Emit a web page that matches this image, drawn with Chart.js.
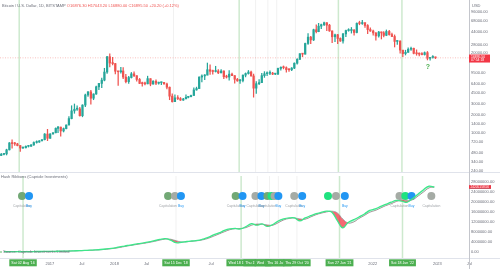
<!DOCTYPE html>
<html>
<head>
<meta charset="utf-8">
<script src="https://cdn.jsdelivr.net/npm/chart.js@4.4.0/dist/chart.umd.min.js"></script>
<style>
  html, body { margin: 0; padding: 0; background: #fff; }
  #wrap { position: relative; width: 500px; height: 269px; overflow: hidden; }
  canvas { position: absolute; left: 0; }
  #price { top: 0; }
  #hash { top: 172px; }
</style>
</head>
<body>
<div id="wrap">
  <canvas id="price" width="500" height="172"></canvas>
  <canvas id="hash" width="500" height="97"></canvas>
</div>
<script>
// ---- Data ----

// half-monthly BTC candles, Apr 2016 - Dec 2022 (open = previous close)
const firstOpen = 430;
const candleClose = [
  448,457,531,690,673,665,624,568,573,607,608,640,700,712,745,778,963,
  820,965,1010,1190,1250,1080,1180,1350,1720,2300,2450,2480,1920,2860,4180,4700,3700,4340,5680,6450,7300,9900,17600,13900,
  13600,10200,10000,10300,8200,6900,8050,9250,8650,7500,6450,6400,6350,7730,6300,7000,6500,6630,6700,6330,5600,4000,3250,3750,
  3650,3450,3600,3830,3900,4100,5050,5320,8200,8550,8800,10800,10200,10100,10300,9600,10300,8300,8200,9150,8650,7550,7100,7200,
  8800,9350,9900,8550,5400,6400,6650,8650,9300,9450,9450,9150,9200,11350,11850,11650,10800,10780,11500,13800,15950,19700,19400,29000,
  36800,33100,48600,45200,55600,58800,63200,57700,46400,37300,40200,35000,31800,41500,47100,47200,48100,43800,61600,61300,63700,57000,48900,46300,
  43100,38500,44500,43200,39300,45500,40500,37700,31300,31800,22600,19800,20800,23300,24200,20000,19700,19400,19100,20500,16600,17150,17350,16895
];
const candleHigh = [
  468,463,545,700,775,705,680,628,590,615,612,645,720,745,750,785,975,
  1150,975,1020,1210,1290,1250,1210,1360,1850,2790,2980,2780,2620,2900,4330,4740,4970,4370,5850,6470,7880,11400,17900,19700,
  17200,13800,10200,11800,11700,9100,8400,9750,9950,8600,7800,6800,6800,8480,7700,7150,7400,6800,6800,6720,6550,5650,4350,4200,
  4100,3800,3700,4200,3950,4150,5450,5620,8300,8950,9000,13900,13000,10700,12300,10900,10900,10400,8800,10500,9500,8700,7800,7520,
  8900,9580,10500,10300,9180,6950,7480,9450,10050,9950,10400,9800,9450,11450,12100,12450,12050,11200,11700,14000,16450,19850,19900,29300,
  41950,38000,49700,58350,61800,60100,64850,63500,59600,46700,41300,40900,36000,42300,48100,50500,52900,48800,62900,67000,69000,61000,59100,52000,
  47900,43500,45800,44600,45400,48200,47400,42900,40000,32400,31900,21900,22500,24600,25200,24400,22800,20400,20500,21100,21450,17200,18400,17400
];
const candleLow = [
  425,440,438,528,565,630,616,500,558,570,590,603,630,680,700,740,775,
  750,820,960,1000,1010,890,1040,1170,1350,1700,2100,2350,1880,1840,2700,3950,2970,3500,4280,5100,5500,7100,9400,12000,
  12900,9200,6000,9500,7700,6600,6450,7900,8300,7050,6400,5800,6100,6350,5900,6300,6150,6250,6150,6250,5250,3500,3200,3250,
  3500,3400,3400,3700,3750,3950,4100,5000,5320,6800,7450,8900,9050,9100,9900,9350,9600,7750,7900,7300,8600,6500,7000,6450,
  6850,8250,9150,8450,3850,4450,6150,6650,8100,8620,8950,8950,9000,9000,10650,11150,9900,10150,10400,11250,13300,15900,17600,19300,
  28000,28800,32300,43000,45000,50400,56800,47100,45700,30000,31000,28800,31400,29300,37300,45900,42800,39600,43300,58500,59500,53200,42000,45600,
  39600,32900,36600,34300,37100,38800,39500,37600,25400,28000,20100,17600,18800,20700,22400,19600,18600,18200,18900,18700,15600,15500,16750,16400
];

// hash rate moving averages (millions), monthly Apr 2016 - Dec 2022
const hashFast = [
  0.12,0.13,0.15,0.15,0.16,0.17,0.19,0.20,0.22,
  0.25,0.30,0.34,0.37,0.45,0.55,0.62,0.72,0.85,1.0,1.2,1.45,
  1.8,2.2,2.6,2.9,3.3,3.6,4.0,4.5,5.0,5.3,4.7,3.7,
  3.9,4.2,4.4,4.6,5.1,5.8,6.8,7.6,8.6,9.2,9.4,9.2,
  10.2,11.3,10.7,11.2,10.2,11.0,12.4,13.2,13.6,13.6,12.4,13.6,
  14.5,15.3,15.8,16.3,15.9,12.5,9.6,11.8,12.9,14.0,15.2,16.6,
  17.2,18.2,19.0,19.9,20.6,20.3,19.9,21.4,23.2,24.9,26.3,25.9
];
const hashSlow = [
  0.11,0.12,0.14,0.15,0.155,0.165,0.18,0.195,0.21,
  0.235,0.27,0.32,0.355,0.41,0.5,0.58,0.67,0.78,0.92,1.1,1.32,
  1.62,2.0,2.4,2.75,3.1,3.45,3.8,4.25,4.75,5.15,5.1,4.5,
  4.0,4.1,4.3,4.5,4.85,5.45,6.3,7.2,8.1,8.9,9.3,9.4,
  9.75,10.7,11.15,11.1,10.8,10.7,11.7,12.8,13.4,13.6,13.2,13.1,
  14.0,14.9,15.5,16.0,16.3,15.6,13.2,11.6,12.0,13.4,14.6,15.9,
  16.6,17.6,18.5,19.3,20.2,20.8,20.6,20.9,22.4,24.0,25.6,26.0
];

// signals
const signalLevel = 22.4;
const signalDates = ['2016-07-27','2016-09-05','2018-10-31','2018-12-09','2019-01-12','2019-11-17','2019-12-26',
  '2020-03-08','2020-04-11','2020-05-15','2020-06-07','2020-06-24','2020-07-16','2020-10-14','2020-11-28',
  '2021-04-23','2021-06-07','2021-07-27','2022-06-01','2022-07-04','2022-08-08','2022-11-28'];
const signalTypes = ['cap','buy','cap','grey','buy','cap','buy',
  'grey','buy','cap','rec','grey','buy','grey','buy',
  'rec','grey','buy','grey','rec','buy','grey'];

// vertical markers
const markerDates = ['2016-08-02','2018-12-15','2019-12-18','2020-03-19','2020-05-27','2020-07-16','2020-10-29','2021-06-27','2022-06-18'];
const markerLabels = ["Sat 02 Aug '16","Sat 15 Dec '18","Wed 18 Dec '19","Thu 19 Mar '20","Wed 27 May '20","Thu 16 Jul '20","Thu 29 Oct '20","Sun 27 Jun '21","Sat 18 Jun '22"];
const markerStrong = [true,false,true,false,false,false,false,true,true];

// axes
const priceTicks = [240,340,480,720,1000,1400,2000,3000,4500,6400,9500,20000,28000,44000,68000,96000];
const hashTicks = [0,4,8,12,16,20,24,28];
const timeTickDates = ['2017-01-01','2017-07-01','2018-01-01','2018-07-01','2019-07-01','2022-01-01','2023-01-01','2023-07-01'];
const timeTickLabels = ['2017','Jul','2018','Jul','Jul','2022','2023','Jul'];

const legendTitle = 'Bitcoin / U.S. Dollar, 1D, BITSTAMP';
const legendValues = 'O16876.30 H17043.20 L16880.00 C16895.50 +20.20 (+0.12%)';
const lastPriceText = ['16895.50', '07:54:18'];
const hashLastText = ['26063519.86', '24205158.56'];

// ---- Helpers ----
const FONT = '"Liberation Sans", Arial, sans-serif';
const xMin = 2016.29, xMax = 2023.49;

function toYear(s) {
  const [y, m, d] = s.split('-').map(Number);
  const start = Date.UTC(y, 0, 1), end = Date.UTC(y + 1, 0, 1);
  return y + (Date.UTC(y, m - 1, d) - start) / (end - start);
}

const candleDates = [];
const hashDates = [];
for (let y = 2016; y <= 2022; y++) {
  for (let m = (y === 2016 ? 4 : 1); m <= 12; m++) {
    const mm = String(m).padStart(2, '0');
    candleDates.push(`${y}-${mm}-08`, `${y}-${mm}-23`);
    hashDates.push(`${y}-${mm}-15`);
  }
}
candleDates.shift();

const opens = [firstOpen, ...candleClose.slice(0, -1)];
const candleColors = candleClose.map((c, i) => c >= opens[i] ? '#26a69a' : '#ef5350');

function noPad(s) { s.paddingTop = 0; s.paddingBottom = 0; s.paddingLeft = 0; s.paddingRight = 0; }

function drawMarkers(chart) {
  const { ctx, chartArea, scales } = chart;
  ctx.save();
  markerDates.forEach((d, i) => {
    const px = scales.x.getPixelForValue(toYear(d));
    ctx.strokeStyle = markerStrong[i] ? 'rgba(76,175,80,0.28)' : 'rgba(120,120,120,0.10)';
    ctx.lineWidth = markerStrong[i] ? 1.5 : 1;
    ctx.beginPath();
    ctx.moveTo(px, chartArea.top);
    ctx.lineTo(px, chartArea.bottom);
    ctx.stroke();
  });
  ctx.restore();
}

// ---- Price pane ----
const pricePlugin = {
  id: 'pricePane',
  beforeDatasetsDraw(chart) { drawMarkers(chart); },
  afterDraw(chart) {
    const { ctx, scales } = chart;
    ctx.save();
    ctx.textBaseline = 'middle';
    ctx.font = `4px ${FONT}`;
    ctx.fillStyle = '#6a6d78';
    ctx.fillText(legendTitle, 2, 6);
    const w = ctx.measureText(legendTitle + ' ').width;
    ctx.fillStyle = '#ef5350';
    ctx.fillText(legendValues, 2 + w, 6);
    ctx.fillStyle = '#6a6d78';
    ctx.fillText('USD', 472, 5.7);

    // last price line and label
    const py = scales.y.getPixelForValue(candleClose[candleClose.length - 1]);
    ctx.strokeStyle = 'rgba(239,83,80,0.6)';
    ctx.lineWidth = 0.6;
    ctx.setLineDash([1, 1.5]);
    ctx.beginPath();
    ctx.moveTo(0, py);
    ctx.lineTo(469, py);
    ctx.stroke();
    ctx.setLineDash([]);
    ctx.fillStyle = '#f23645';
    ctx.fillRect(469, py - 3.3, 21, 8);
    ctx.fillStyle = '#fff';
    ctx.font = `3.4px ${FONT}`;
    ctx.fillText(lastPriceText[0], 471, py - 1.2);
    ctx.fillText(lastPriceText[1], 471, py + 2.6);

    ctx.fillStyle = '#4caf50';
    ctx.font = `bold 7px ${FONT}`;
    ctx.textAlign = 'center';
    ctx.fillText('?', 428, 67);
    ctx.restore();
  }
};

new Chart(document.getElementById('price'), {
  type: 'bar',
  data: {
    datasets: [
      {
        data: candleDates.map((d, i) => ({ x: toYear(d), y: [candleLow[i], candleHigh[i]] })),
        backgroundColor: candleColors, barThickness: 0.6, grouped: false
      },
      {
        data: candleDates.map((d, i) => ({ x: toYear(d), y: [opens[i], candleClose[i]] })),
        backgroundColor: candleColors, barThickness: 1.6, grouped: false, minBarLength: 1
      }
    ]
  },
  options: {
    responsive: false,
    animation: false,
    layout: { padding: 0 },
    plugins: { legend: { display: false }, tooltip: { enabled: false } },
    scales: {
      x: { type: 'linear', min: xMin, max: xMax, offset: false, display: false },
      y: {
        type: 'logarithmic', position: 'right', min: 231, max: 148600,
        afterFit: s => { s.width = 31; noPad(s); },
        afterBuildTicks: s => { s.ticks = priceTicks.map(v => ({ value: v })); },
        ticks: { autoSkip: false, padding: 2, color: '#6a6d78', font: { size: 4, family: FONT }, callback: v => Number(v).toFixed(2) },
        grid: { display: false, drawTicks: false },
        border: { display: true, color: '#c4c6cc', width: 1 }
      }
    }
  },
  plugins: [pricePlugin]
});

// ---- Hash ribbons pane ----
const signalColors = { cap: '#72a875', grey: '#a5aba5', rec: '#1fe27f', buy: '#2196f3' };

const hashPlugin = {
  id: 'hashPane',
  beforeDatasetsDraw(chart) { drawMarkers(chart); },
  afterDraw(chart) {
    const { ctx, scales, width } = chart;
    const bottom = chart.chartArea.bottom;
    ctx.save();
    ctx.textBaseline = 'middle';

    // signal labels
    ctx.font = `3.4px ${FONT}`;
    ctx.textAlign = 'center';
    signalDates.forEach((d, i) => {
      const t = signalTypes[i];
      if (t === 'rec') return;
      if (t === 'grey' && i !== signalDates.length - 1 && signalTypes[i - 1] !== 'buy') return;
      const px = scales.x.getPixelForValue(toYear(d));
      const py = scales.y.getPixelForValue(signalLevel) + 10;
      ctx.fillStyle = t === 'buy' ? '#2196f3' : '#a0a4a8';
      ctx.fillText(t === 'buy' ? 'Buy' : 'Capitulation', px, py);
    });

    // pane texts
    ctx.textAlign = 'left';
    ctx.font = `4px ${FONT}`;
    ctx.fillStyle = '#6a6d78';
    ctx.fillText('Hash Ribbons (Capriole Investments)', 1, 5);
    ctx.fillText('Source: Capriole Investments Limited', 3, 80);
    ctx.fillStyle = '#4caf50';
    ctx.beginPath();
    ctx.arc(1, 80, 0.8, 0, Math.PI * 2);
    ctx.fill();

    // separators
    ctx.strokeStyle = '#e0e3eb';
    ctx.lineWidth = 1;
    ctx.beginPath();
    ctx.moveTo(0, 0.5); ctx.lineTo(width, 0.5);
    ctx.moveTo(0, bottom + 0.5); ctx.lineTo(width, bottom + 0.5);
    ctx.stroke();
    ctx.strokeStyle = '#c4c6cc';
    ctx.beginPath();
    ctx.moveTo(469.5, 0); ctx.lineTo(469.5, 97);
    ctx.stroke();

    // last value labels
    ctx.font = `3.2px ${FONT}`;
    const boxes = [[hashFast, '#787b86'], [hashSlow, '#f23645']];
    boxes.forEach(([arr, col], i) => {
      const py = scales.y.getPixelForValue(arr[arr.length - 1]);
      ctx.fillStyle = col;
      ctx.fillRect(469, py - 1.7, 22, 3.4);
      ctx.fillStyle = '#fff';
      ctx.fillText(hashLastText[i], 470.5, py);
    });

    // time axis markers
    ctx.font = `3.6px ${FONT}`;
    ctx.textAlign = 'center';
    markerDates.forEach((d, i) => {
      const px = scales.x.getPixelForValue(toYear(d));
      const tw = ctx.measureText(markerLabels[i]).width + 4;
      ctx.fillStyle = '#4caf50';
      ctx.fillRect(px - tw / 2, bottom + 1.3, tw, 7);
      ctx.fillStyle = '#fff';
      ctx.fillText(markerLabels[i], px, bottom + 4.9);
    });
    ctx.restore();
  }
};

new Chart(document.getElementById('hash'), {
  type: 'line',
  data: {
    datasets: [
      {
        data: hashDates.map((d, i) => ({ x: toYear(d), y: hashFast[i] })),
        borderColor: '#3ee68a', borderWidth: 1.3, pointRadius: 0, tension: 0.4,
        fill: { target: 1, above: 'rgba(105,240,174,0.45)', below: 'rgba(242,54,69,0.75)' }
      },
      {
        data: hashDates.map((d, i) => ({ x: toYear(d), y: hashSlow[i] })),
        borderColor: '#8a8d96', borderWidth: 0.8, pointRadius: 0, tension: 0.4, fill: false
      },
      {
        data: signalDates.map(d => ({ x: toYear(d), y: signalLevel })),
        showLine: false, pointRadius: 4, pointBorderWidth: 0,
        pointBackgroundColor: signalTypes.map(t => signalColors[t]), fill: false
      }
    ]
  },
  options: {
    responsive: false,
    animation: false,
    layout: { padding: 0 },
    plugins: { legend: { display: false }, tooltip: { enabled: false } },
    scales: {
      x: {
        type: 'linear', min: xMin, max: xMax, offset: false,
        afterFit: s => { s.height = 11; noPad(s); },
        afterBuildTicks: s => { s.ticks = timeTickDates.map(d => ({ value: toYear(d) })); },
        ticks: {
          autoSkip: false, maxRotation: 0, padding: 3, color: '#6a6d78', font: { size: 4, family: FONT },
          callback: (v, i) => timeTickLabels[i]
        },
        grid: { display: false, drawTicks: false },
        border: { display: false }
      },
      y: {
        type: 'linear', position: 'right', min: -2.4, max: 30.36,
        afterFit: s => { s.width = 31; noPad(s); },
        afterBuildTicks: s => { s.ticks = hashTicks.map(v => ({ value: v })); },
        ticks: { autoSkip: false, padding: 2, color: '#6a6d78', font: { size: 4, family: FONT }, callback: v => (v * 1e6).toFixed(2) },
        grid: { display: false, drawTicks: false },
        border: { display: false }
      }
    }
  },
  plugins: [hashPlugin]
});
</script>
</body>
</html>
